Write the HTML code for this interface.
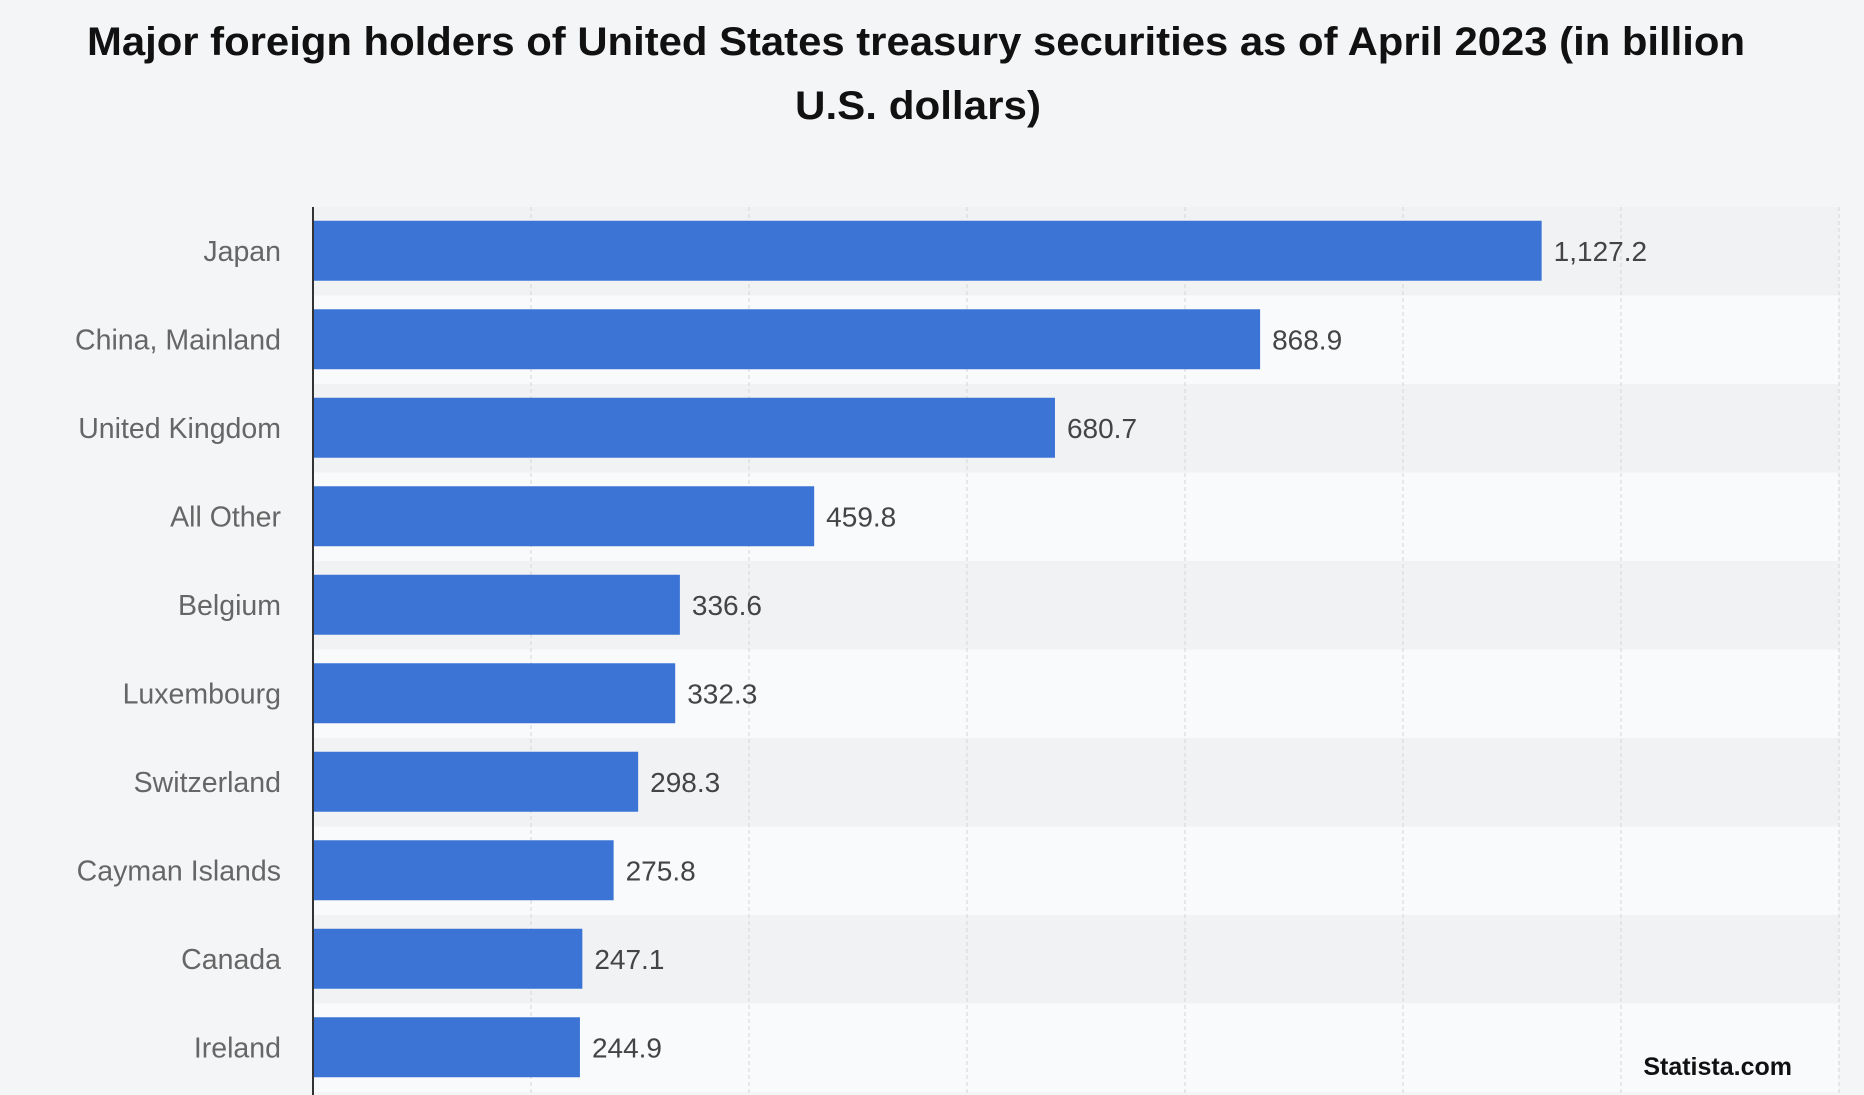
<!DOCTYPE html>
<html><head><meta charset="utf-8"><style>
html,body{margin:0;padding:0;background:#f4f5f7;}
svg{display:block;font-family:"Liberation Sans",Arial,sans-serif;}
</style></head><body>
<svg id="chart" width="1864" height="1095" viewBox="0 0 1864 1095">
<rect x="0" y="0" width="1864" height="1095" fill="#f4f5f7"/>
<text x="916" y="55" text-anchor="middle" font-size="40" font-weight="bold" fill="#111" textLength="1658" lengthAdjust="spacingAndGlyphs">Major foreign holders of United States treasury securities as of April 2023 (in billion</text>
<text x="918" y="119" text-anchor="middle" font-size="40" font-weight="bold" fill="#111" textLength="246" lengthAdjust="spacingAndGlyphs">U.S. dollars)</text>
<g id="bands"></g><g id="grid"></g><g id="bars"></g>
<line x1="313" y1="207" x2="313" y2="1095" stroke="#333" stroke-width="2"/>
<text x="1792" y="1075" text-anchor="end" font-size="25" font-weight="bold" fill="#111">Statista.com</text>
</svg>
<script>
const categories = ["Japan","China, Mainland","United Kingdom","All Other","Belgium","Luxembourg","Switzerland","Cayman Islands","Canada","Ireland"];
const values = [1127.2,868.9,680.7,459.8,336.6,332.3,298.3,275.8,247.1,244.9];
const valueLabels = ["1,127.2","868.9","680.7","459.8","336.6","332.3","298.3","275.8","247.1","244.9"];
const gridTicks = [200,400,600,800,1000,1200,1400];

const NS="http://www.w3.org/2000/svg";
const x0=313, xMax=1839, vMax=1400;
const rowTop=207, rowH=88.5, barH=60;
const xs=v=>x0+(v/vMax)*(xMax-x0);
const yc=i=>rowTop+rowH*(i+0.5)-0.5;
function mk(t,a){const e=document.createElementNS(NS,t);for(const k in a)e.setAttribute(k,a[k]);return e;}
const bands=document.getElementById('bands'),grid=document.getElementById('grid'),bars=document.getElementById('bars');
categories.forEach((c,i)=>{
  const b=mk('rect',{x:x0,y:rowTop+rowH*i,width:xMax-x0,height:rowH,fill:i%2===0?'#f1f2f4':'#f9fafc'});
  
  
  bands.appendChild(b);
});
gridTicks.forEach(t=>{
  const l=mk('line',{x1:xs(t),x2:xs(t),y1:207,y2:1095,stroke:'#d8dadd','stroke-width':1.2,'stroke-dasharray':'4,3'});
  
  
  grid.appendChild(l);
});
categories.forEach((c,i)=>{
  const y=yc(i);
  const r=mk('rect',{x:x0,y:y-barH/2,width:xs(values[i])-x0,height:barH,fill:'#3c74d6'});
  
  
  bars.appendChild(r);
  const lab=mk('text',{x:281,y:y+10,'text-anchor':'end','font-size':28.5,fill:'#666'});
  lab.textContent=c;
  
  
  bars.appendChild(lab);
  const vl=mk('text',{x:xs(values[i])+12,y:y+10,'font-size':28,fill:'#444'});
  vl.textContent=valueLabels[i];
  
  
  bars.appendChild(vl);
});
</script>
</body></html>
